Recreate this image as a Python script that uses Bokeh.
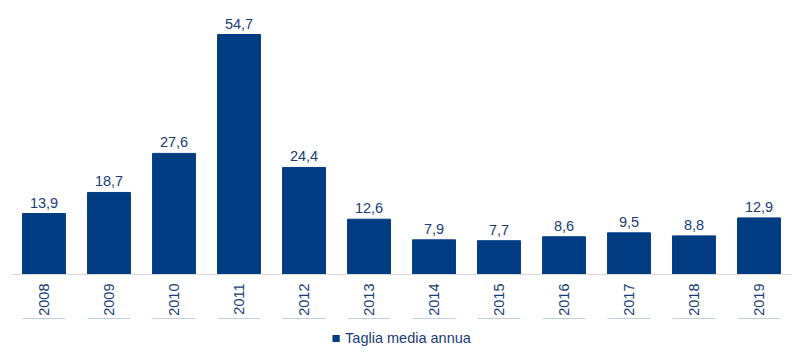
from bokeh.plotting import figure
from bokeh.layouts import column
from bokeh.models import ColumnDataSource, FactorRange, Range1d, Legend, LegendItem, LabelSet
from bokeh.core.properties import value
from bokeh.embed import file_html
from bokeh.resources import INLINE
import math

years = ["2008", "2009", "2010", "2011", "2012", "2013", "2014", "2015", "2016", "2017", "2018", "2019"]
values = [13.9, 18.7, 27.6, 54.7, 24.4, 12.6, 7.9, 7.7, 8.6, 9.5, 8.8, 12.9]
labels = [f"{v:.1f}".replace(".", ",") for v in values]
series_name = "Taglia media annua"

BAR = "#023C83"
TXT = "#173C78"
FONT = "Liberation Sans"

src = ColumnDataSource(dict(x=years, top=values, lab=labels))

p = figure(width=800, height=318, x_range=FactorRange(*years, range_padding=0),
           y_range=Range1d(0, 62.45), output_backend="svg", toolbar_location=None,
           y_axis_location=None, min_border_left=11, min_border_right=9,
           min_border_top=0, min_border_bottom=0)
p.outline_line_color = None
p.grid.visible = False
p.background_fill_color = "white"
p.border_fill_color = "white"

r = p.vbar(x="x", top="top", width=0.66, source=src, fill_color=BAR, line_color=BAR)

lbl = LabelSet(x="x", y="top", text="lab", source=src, text_align="center",
               text_baseline="bottom", y_offset=6, text_font=value(FONT),
               text_font_size=value("14.5px"), text_color=value(TXT))
p.add_layout(lbl)

ax = p.xaxis[0]
ax.axis_line_color = "#D9D9D9"
ax.axis_line_width = 1
ax.major_tick_line_color = None
ax.minor_tick_line_color = None
ax.major_tick_out = 0
ax.major_tick_in = 0
ax.major_label_orientation = math.pi / 2
ax.major_label_standoff = 9
ax.major_label_text_font = FONT
ax.major_label_text_font_size = "14.5px"
ax.major_label_text_color = TXT

# legend strip below the chart (its renderer's bars fall outside its visible range)
p2 = figure(width=800, height=39, x_range=FactorRange(*years, range_padding=0),
            y_range=Range1d(-10, -5),
            output_backend="svg", toolbar_location=None,
            x_axis_location=None, y_axis_location=None,
            min_border_left=0, min_border_right=0, min_border_top=0, min_border_bottom=0)
p2.outline_line_color = None
p2.grid.visible = False
p2.border_fill_color = "white"
r2 = p2.vbar(x="x", top="top", bottom=0, width=0.66, source=src, fill_color=BAR, line_color=None)

legend = Legend(items=[LegendItem(label=series_name, renderers=[r2])],
                location="center", orientation="horizontal",
                border_line_color=None, background_fill_alpha=0,
                label_text_font=FONT, label_text_font_size="14.5px",
                label_text_color=TXT, glyph_width=9, glyph_height=9,
                padding=0, margin=0, label_standoff=5, label_height=17)
p2.add_layout(legend, "center")

layout = column(p, p2, spacing=0)
open("out.html", "w").write(file_html(layout, INLINE))
